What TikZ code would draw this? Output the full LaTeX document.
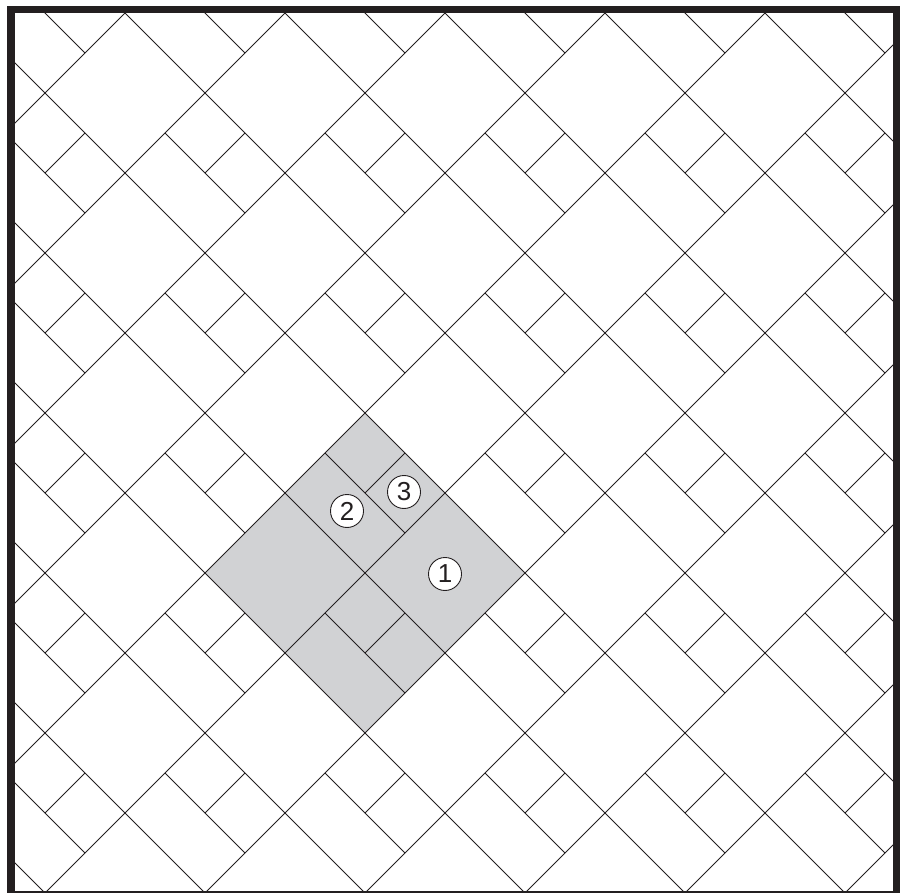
\documentclass[tikz,border=0pt]{standalone}
\usepackage{fontspec}
\setmainfont{Liberation Sans}
\definecolor{ink}{HTML}{231F20}
\definecolor{shadegray}{HTML}{D1D2D4}
\tikzset{
  tile/.style={draw=ink, line width=1pt},
  shaded/.style={fill=shadegray},
  lab/.style={circle, draw=ink, line width=0.9pt, fill=white, minimum size=33pt, inner sep=0pt, text=ink, font=\fontsize{26}{26}\selectfont},
  frame/.style={draw=ink, line width=7.5pt}
}
\begin{document}
\begin{tikzpicture}
\useasboundingbox (0pt,0pt) rectangle (908pt,-893pt);
\fill[white] (0pt,0pt) rectangle (908pt,-893pt);
\begin{scope}
\clip (15pt,-13pt) rectangle (893pt,-891pt);
\begin{scope}[shift={(205pt,-573pt)}, x={(40pt,-40pt)}, y={(40pt,40pt)}]
  \fill[shaded] (0,0) -- (4,0) -- (4,4) -- (0,4) -- cycle;
  \foreach \k in {-12,-10,...,18} {
    \draw[tile] (\k,-10) -- (\k,20);
    \draw[tile] (-14,\k) -- (18,\k);
  }
  \foreach \i in {-7,...,8} {
    \foreach \j in {-5,...,9} {
      \pgfmathtruncatemacro{\p}{mod(abs(\i+\j),2)}
      \ifnum\p=1
        \draw[tile] (2*\i,2*\j+1) -- (2*\i+2,2*\j+1);
        \draw[tile] (2*\i+1,2*\j+1) -- (2*\i+1,2*\j+2);
      \fi
    }
  }
\end{scope}
\end{scope}
\node[lab] (l1) at (445pt,-574pt) {1};
\node[lab] (l2) at (347pt,-511pt) {2};
\node[lab] (l3) at (404pt,-492pt) {3};
\draw[frame] (11pt,-9.5pt) rectangle (896.5pt,-894.8pt);
\end{tikzpicture}
\end{document}
